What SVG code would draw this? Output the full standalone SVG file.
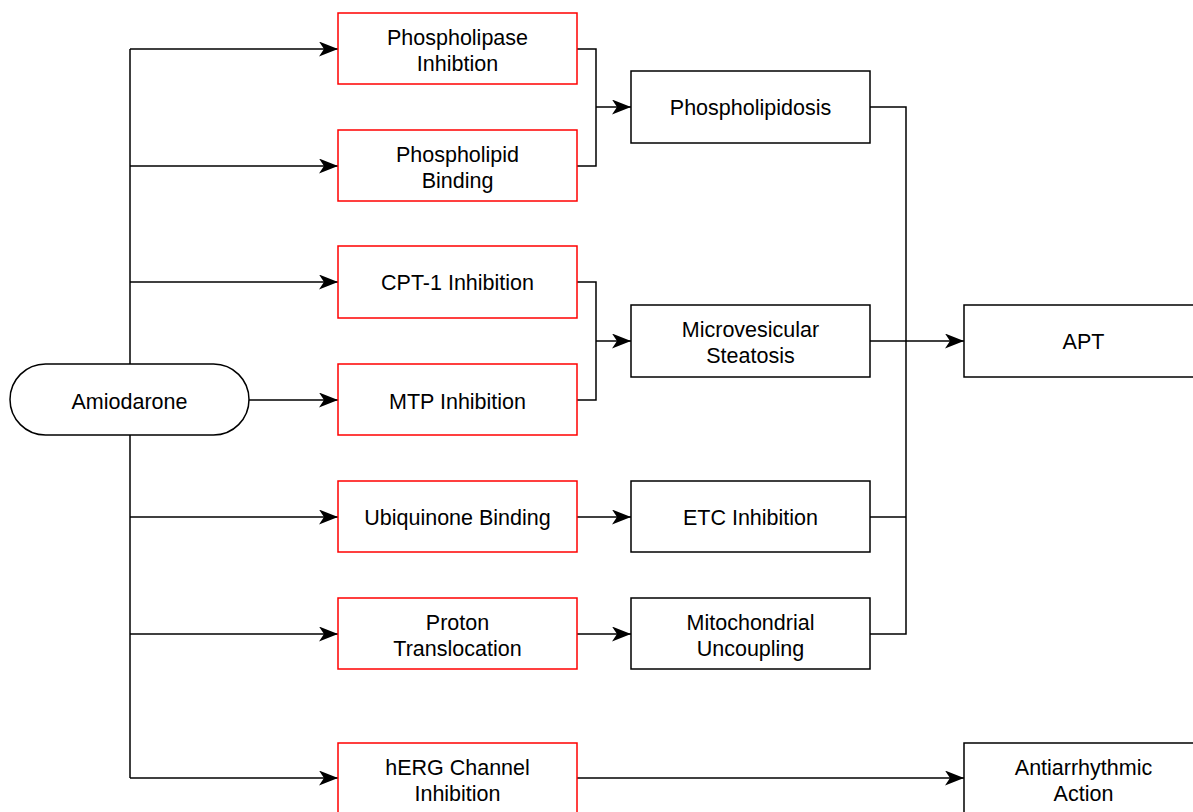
<svg xmlns="http://www.w3.org/2000/svg" width="1193" height="812" viewBox="0 0 1193 812">
<style>
.r{fill:#fff;stroke:#ff0000;stroke-width:1.5}
.b{fill:#fff;stroke:#000;stroke-width:1.5}
.t{font-family:"Liberation Sans",Arial,sans-serif;font-size:21.5px;fill:#000;text-anchor:middle}
.c{fill:none;stroke:#000;stroke-width:1.5}
</style>
<defs>
<marker id="a" markerUnits="userSpaceOnUse" markerWidth="20" markerHeight="16" refX="19" refY="7.5" orient="auto">
<path d="M0,0 L19,7.5 L0,15 L5,7.5 z" fill="#000"/>
</marker>
</defs>
<g id="connectors">
<path class="c" d="M130,49 V778"/>
<path class="c" d="M130,49 H338" marker-end="url(#a)"/>
<path class="c" d="M130,166 H338" marker-end="url(#a)"/>
<path class="c" d="M130,282 H338" marker-end="url(#a)"/>
<path class="c" d="M248,400 H338" marker-end="url(#a)"/>
<path class="c" d="M130,517 H338" marker-end="url(#a)"/>
<path class="c" d="M130,634 H338" marker-end="url(#a)"/>
<path class="c" d="M130,778 H338" marker-end="url(#a)"/>
<path class="c" d="M577,49 H596 V166 H577"/>
<path class="c" d="M596,107 H631" marker-end="url(#a)"/>
<path class="c" d="M577,282 H596 V400 H577"/>
<path class="c" d="M596,341 H631" marker-end="url(#a)"/>
<path class="c" d="M577,517 H631" marker-end="url(#a)"/>
<path class="c" d="M577,634 H631" marker-end="url(#a)"/>
<path class="c" d="M870,107 H906 V634 H870"/>
<path class="c" d="M870,517 H906"/>
<path class="c" d="M870,341 H964" marker-end="url(#a)"/>
<path class="c" d="M577,778 H964" marker-end="url(#a)"/>
</g>
<g id="amiodarone"><rect class="b" x="10" y="364" width="239" height="71" rx="35.5"/><text class="t" x="129.5" y="408.5">Amiodarone</text></g>
<g id="phospholipase"><rect class="r" x="338" y="13" width="239" height="71"/><text class="t" x="457.5" y="44.5">Phospholipase</text><text class="t" x="457.5" y="70.5">Inhibtion</text></g>
<g id="phospholipid"><rect class="r" x="338" y="130" width="239" height="71"/><text class="t" x="457.5" y="161.5">Phospholipid</text><text class="t" x="457.5" y="187.5">Binding</text></g>
<g id="cpt1"><rect class="r" x="338" y="246" width="239" height="72"/><text class="t" x="457.5" y="290">CPT-1 Inhibition</text></g>
<g id="mtp"><rect class="r" x="338" y="364" width="239" height="71"/><text class="t" x="457.5" y="408.5">MTP Inhibition</text></g>
<g id="ubiquinone"><rect class="r" x="338" y="481" width="239" height="71"/><text class="t" x="457.5" y="525">Ubiquinone Binding</text></g>
<g id="proton"><rect class="r" x="338" y="598" width="239" height="71"/><text class="t" x="457.5" y="629.5">Proton</text><text class="t" x="457.5" y="655.5">Translocation</text></g>
<g id="herg"><rect class="r" x="338" y="743" width="239" height="75"/><text class="t" x="457.5" y="774.5">hERG Channel</text><text class="t" x="457.5" y="800.5">Inhibition</text></g>
<g id="phospholipidosis"><rect class="b" x="631" y="71" width="239" height="72"/><text class="t" x="750.5" y="115">Phospholipidosis</text></g>
<g id="microvesicular"><rect class="b" x="631" y="305" width="239" height="72"/><text class="t" x="750.5" y="336.5">Microvesicular</text><text class="t" x="750.5" y="362.5">Steatosis</text></g>
<g id="etc"><rect class="b" x="631" y="481" width="239" height="71"/><text class="t" x="750.5" y="525">ETC Inhibition</text></g>
<g id="mito"><rect class="b" x="631" y="598" width="239" height="71"/><text class="t" x="750.5" y="629.5">Mitochondrial</text><text class="t" x="750.5" y="655.5">Uncoupling</text></g>
<g id="apt"><rect class="b" x="964" y="305" width="239" height="72"/><text class="t" x="1083.5" y="349">APT</text></g>
<g id="antiarrhythmic"><rect class="b" x="964" y="743" width="239" height="75"/><text class="t" x="1083.5" y="774.5">Antiarrhythmic</text><text class="t" x="1083.5" y="800.5">Action</text></g>
</svg>
